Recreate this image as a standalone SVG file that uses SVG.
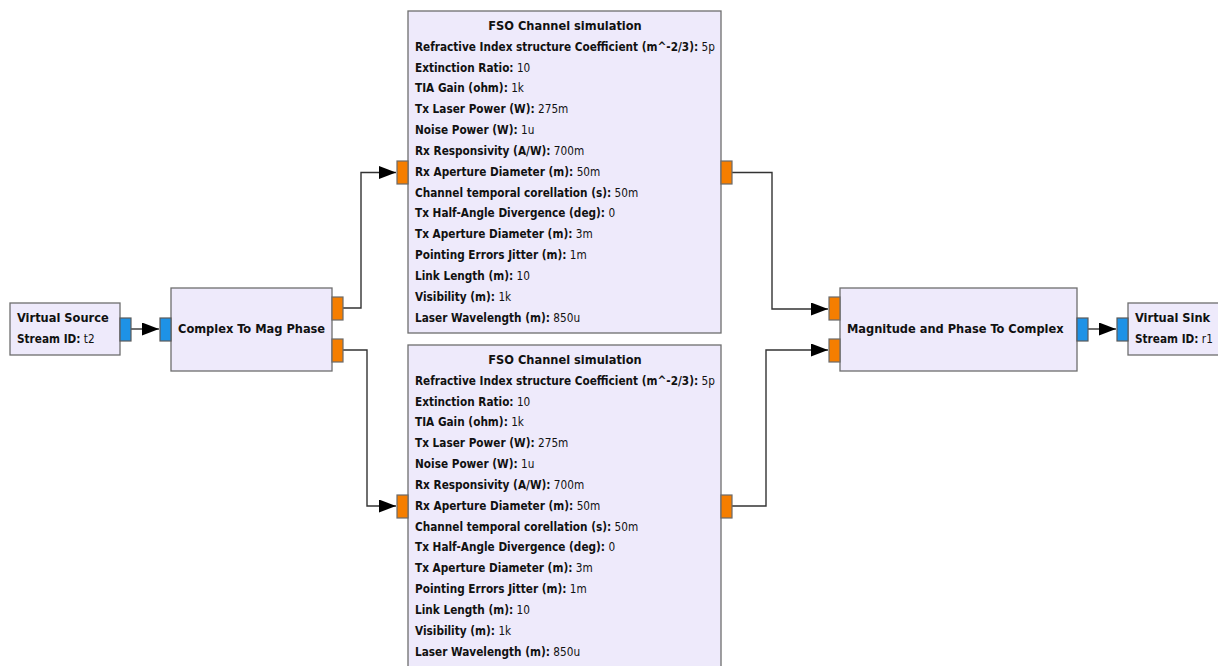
<svg xmlns="http://www.w3.org/2000/svg" width="1218" height="666" viewBox="0 0 1218 666">
  <defs>
    <style>
      .blk { fill: #EEEAFB; stroke: #6E6E6E; stroke-width: 1.3; }
      .pf { fill: #F57E00; stroke: #6A6A6A; stroke-width: 1.2; }
      .pc { fill: #1E92E6; stroke: #5A5A5A; stroke-width: 1.2; }
      .wire { fill: none; stroke: #333; stroke-width: 1.4; }
      text { font-family: "DejaVu Sans Condensed", "DejaVu Sans", sans-serif; font-size: 11.7px; fill: #111; }
      .b { font-weight: bold; }
      .name { font-weight: bold; font-size: 12.7px; }
      .title { font-weight: bold; font-size: 12.7px; text-anchor: middle; }
    </style>
    <marker id="arr" viewBox="0 0 17 13" refX="17" refY="6.5" markerWidth="17" markerHeight="13" markerUnits="userSpaceOnUse" orient="auto">
      <path d="M0,0 L17,6.5 L0,13 Z" fill="#000"/>
    </marker>
  </defs>

  <!-- connectors -->
  <g id="connectors">
    <path class="wire" d="M131,329 H159" marker-end="url(#arr)"/>
    <path class="wire" d="M343,308 H361 V172.5 H396" marker-end="url(#arr)"/>
    <path class="wire" d="M343,350 H367 V506 H396" marker-end="url(#arr)"/>
    <path class="wire" d="M732,172.5 H772 V309 H828" marker-end="url(#arr)"/>
    <path class="wire" d="M732,506 H766 V350 H828" marker-end="url(#arr)"/>
    <path class="wire" d="M1088,329 H1116" marker-end="url(#arr)"/>
  </g>

  <!-- Virtual Source -->
  <g id="virtual_source">
    <rect class="blk" x="10" y="303" width="110" height="52"/>
    <rect class="pc" x="120" y="318" width="11" height="23"/>
    <text x="17" y="322" class="name">Virtual Source</text>
    <text x="17" y="343"><tspan class="b">Stream ID:</tspan> t2</text>
  </g>

  <!-- Complex To Mag Phase -->
  <g id="complex_to_mag_phase">
    <rect class="blk" x="171" y="288" width="161" height="83"/>
    <rect class="pc" x="160" y="318" width="11" height="23"/>
    <rect class="pf" x="332" y="297" width="11" height="23"/>
    <rect class="pf" x="332" y="339" width="11" height="23"/>
    <text x="178" y="333" class="name">Complex To Mag Phase</text>
  </g>

  <!-- FSO Channel simulation (upper) -->
  <g id="fso_channel_1">
    <rect class="blk" x="408" y="11" width="313" height="322"/>
    <rect class="pf" x="397" y="161" width="11" height="23"/>
    <rect class="pf" x="721" y="161" width="11" height="23"/>
    <text x="565" y="30" class="title">FSO Channel simulation</text>
    <text x="415" y="51"><tspan class="b">Refractive Index structure Coefficient (m^-2/3):</tspan> 5p</text>
    <text x="415" y="72"><tspan class="b">Extinction Ratio:</tspan> 10</text>
    <text x="415" y="92"><tspan class="b">TIA Gain (ohm):</tspan> 1k</text>
    <text x="415" y="113"><tspan class="b">Tx Laser Power (W):</tspan> 275m</text>
    <text x="415" y="134"><tspan class="b">Noise Power (W):</tspan> 1u</text>
    <text x="415" y="155"><tspan class="b">Rx Responsivity (A/W):</tspan> 700m</text>
    <text x="415" y="176"><tspan class="b">Rx Aperture Diameter (m):</tspan> 50m</text>
    <text x="415" y="197"><tspan class="b">Channel temporal corellation (s):</tspan> 50m</text>
    <text x="415" y="217"><tspan class="b">Tx Half-Angle Divergence (deg):</tspan> 0</text>
    <text x="415" y="238"><tspan class="b">Tx Aperture Diameter (m):</tspan> 3m</text>
    <text x="415" y="259"><tspan class="b">Pointing Errors Jitter (m):</tspan> 1m</text>
    <text x="415" y="280"><tspan class="b">Link Length (m):</tspan> 10</text>
    <text x="415" y="301"><tspan class="b">Visibility (m):</tspan> 1k</text>
    <text x="415" y="322"><tspan class="b">Laser Wavelength (m):</tspan> 850u</text>
  </g>

  <!-- FSO Channel simulation (lower) -->
  <g id="fso_channel_2">
    <rect class="blk" x="408" y="345" width="313" height="330"/>
    <rect class="pf" x="397" y="495" width="11" height="23"/>
    <rect class="pf" x="721" y="495" width="11" height="23"/>
    <text x="565" y="364" class="title">FSO Channel simulation</text>
    <text x="415" y="385"><tspan class="b">Refractive Index structure Coefficient (m^-2/3):</tspan> 5p</text>
    <text x="415" y="406"><tspan class="b">Extinction Ratio:</tspan> 10</text>
    <text x="415" y="426"><tspan class="b">TIA Gain (ohm):</tspan> 1k</text>
    <text x="415" y="447"><tspan class="b">Tx Laser Power (W):</tspan> 275m</text>
    <text x="415" y="468"><tspan class="b">Noise Power (W):</tspan> 1u</text>
    <text x="415" y="489"><tspan class="b">Rx Responsivity (A/W):</tspan> 700m</text>
    <text x="415" y="510"><tspan class="b">Rx Aperture Diameter (m):</tspan> 50m</text>
    <text x="415" y="531"><tspan class="b">Channel temporal corellation (s):</tspan> 50m</text>
    <text x="415" y="551"><tspan class="b">Tx Half-Angle Divergence (deg):</tspan> 0</text>
    <text x="415" y="572"><tspan class="b">Tx Aperture Diameter (m):</tspan> 3m</text>
    <text x="415" y="593"><tspan class="b">Pointing Errors Jitter (m):</tspan> 1m</text>
    <text x="415" y="614"><tspan class="b">Link Length (m):</tspan> 10</text>
    <text x="415" y="635"><tspan class="b">Visibility (m):</tspan> 1k</text>
    <text x="415" y="656"><tspan class="b">Laser Wavelength (m):</tspan> 850u</text>
  </g>

  <!-- Magnitude and Phase To Complex -->
  <g id="mag_phase_to_complex">
    <rect class="blk" x="840" y="288" width="237" height="83"/>
    <rect class="pf" x="829" y="297" width="11" height="23"/>
    <rect class="pf" x="829" y="339" width="11" height="23"/>
    <rect class="pc" x="1077" y="318" width="11" height="23"/>
    <text x="847" y="333" class="name">Magnitude and Phase To Complex</text>
  </g>

  <!-- Virtual Sink -->
  <g id="virtual_sink">
    <rect class="blk" x="1128" y="303" width="100" height="52"/>
    <rect class="pc" x="1117" y="318" width="11" height="23"/>
    <text x="1135" y="322" class="name">Virtual Sink</text>
    <text x="1135" y="343"><tspan class="b">Stream ID:</tspan> r1</text>
  </g>
</svg>
